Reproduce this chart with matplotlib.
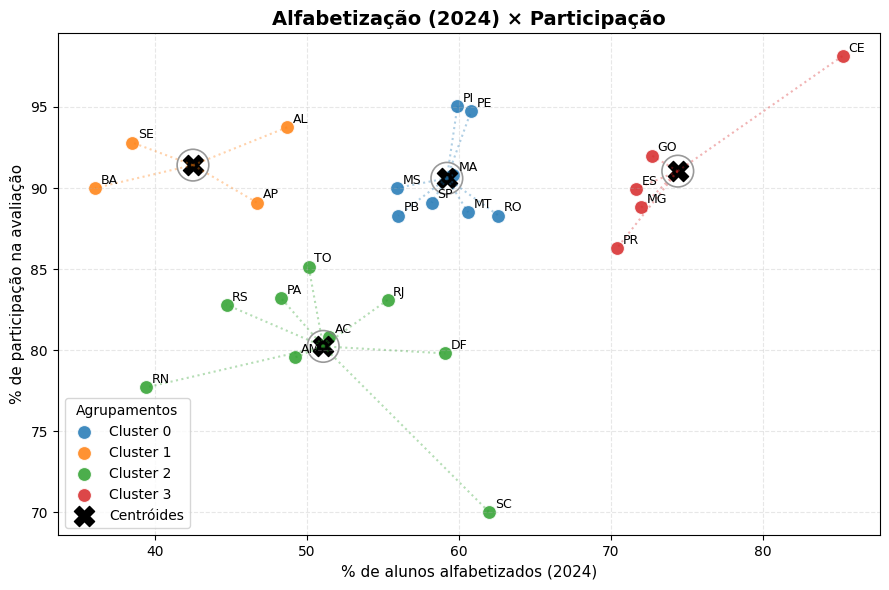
import numpy as np
import matplotlib
matplotlib.use("Agg")
import matplotlib.pyplot as plt

# estados por cluster: sigla, % alfabetizados, % participação
c0_uf = ["PI", "PE", "MA", "MS", "SP", "PB", "MT", "RO"]
c0_x = [59.9, 60.8, 59.6, 55.9, 58.2, 56.0, 60.6, 62.6]
c0_y = [95.06, 94.75, 90.8, 90.0, 89.1, 88.3, 88.5, 88.3]

c1_uf = ["SE", "AL", "BA", "AP"]
c1_x = [38.5, 48.7, 36.05, 46.7]
c1_y = [92.8, 93.75, 90.0, 89.1]

c2_uf = ["TO", "RS", "PA", "RJ", "AC", "AM", "DF", "RN", "SC"]
c2_x = [50.1, 44.7, 48.3, 55.3, 51.45, 49.2, 59.1, 39.4, 62.0]
c2_y = [85.15, 82.8, 83.2, 83.1, 80.8, 79.55, 79.8, 77.7, 70.0]

c3_uf = ["CE", "GO", "ES", "MG", "PR"]
c3_x = [85.26, 72.7, 71.65, 72.0, 70.4]
c3_y = [98.15, 92.0, 89.95, 88.8, 86.3]

clusters = [(c0_uf, c0_x, c0_y), (c1_uf, c1_x, c1_y),
            (c2_uf, c2_x, c2_y), (c3_uf, c3_x, c3_y)]
cores = ["tab:blue", "tab:orange", "tab:green", "tab:red"]

fig, ax = plt.subplots(figsize=(8.89, 5.9), dpi=100)

for i, (ufs, xs, ys) in enumerate(clusters):
    ax.scatter(xs, ys, s=100, color=cores[i], alpha=0.85, edgecolor='white',
               linewidth=0.8, label=f"Cluster {i}")
    for uf, x, y in zip(ufs, xs, ys):
        ax.annotate(uf, (x, y), xytext=(4, 3), textcoords='offset points', fontsize=9)

cxs = [np.mean(c[1]) for c in clusters]
cys = [np.mean(c[2]) for c in clusters]
ax.scatter(cxs, cys, s=210, marker='X', color='black', label="Centróides")
ax.scatter(cxs, cys, s=520, facecolor='none', edgecolor='gray', linewidth=1.2, alpha=0.8)

# linhas do centróide até cada estado
for i, (ufs, xs, ys) in enumerate(clusters):
    for x, y in zip(xs, ys):
        ax.plot([cxs[i], x], [cys[i], y], ':', color=cores[i], alpha=0.35, lw=1.5)

ax.set_title("Alfabetização (2024) × Participação", fontsize=14, fontweight='bold')
ax.set_xlabel("% de alunos alfabetizados (2024)", fontsize=11)
ax.set_ylabel("% de participação na avaliação", fontsize=11)
ax.grid(True, linestyle='--', alpha=0.3)
ax.legend(title="Agrupamentos", loc='lower left')

fig.subplots_adjust(left=0.065, right=0.99, top=0.944, bottom=0.093)
fig.savefig("out.png", dpi=100)
